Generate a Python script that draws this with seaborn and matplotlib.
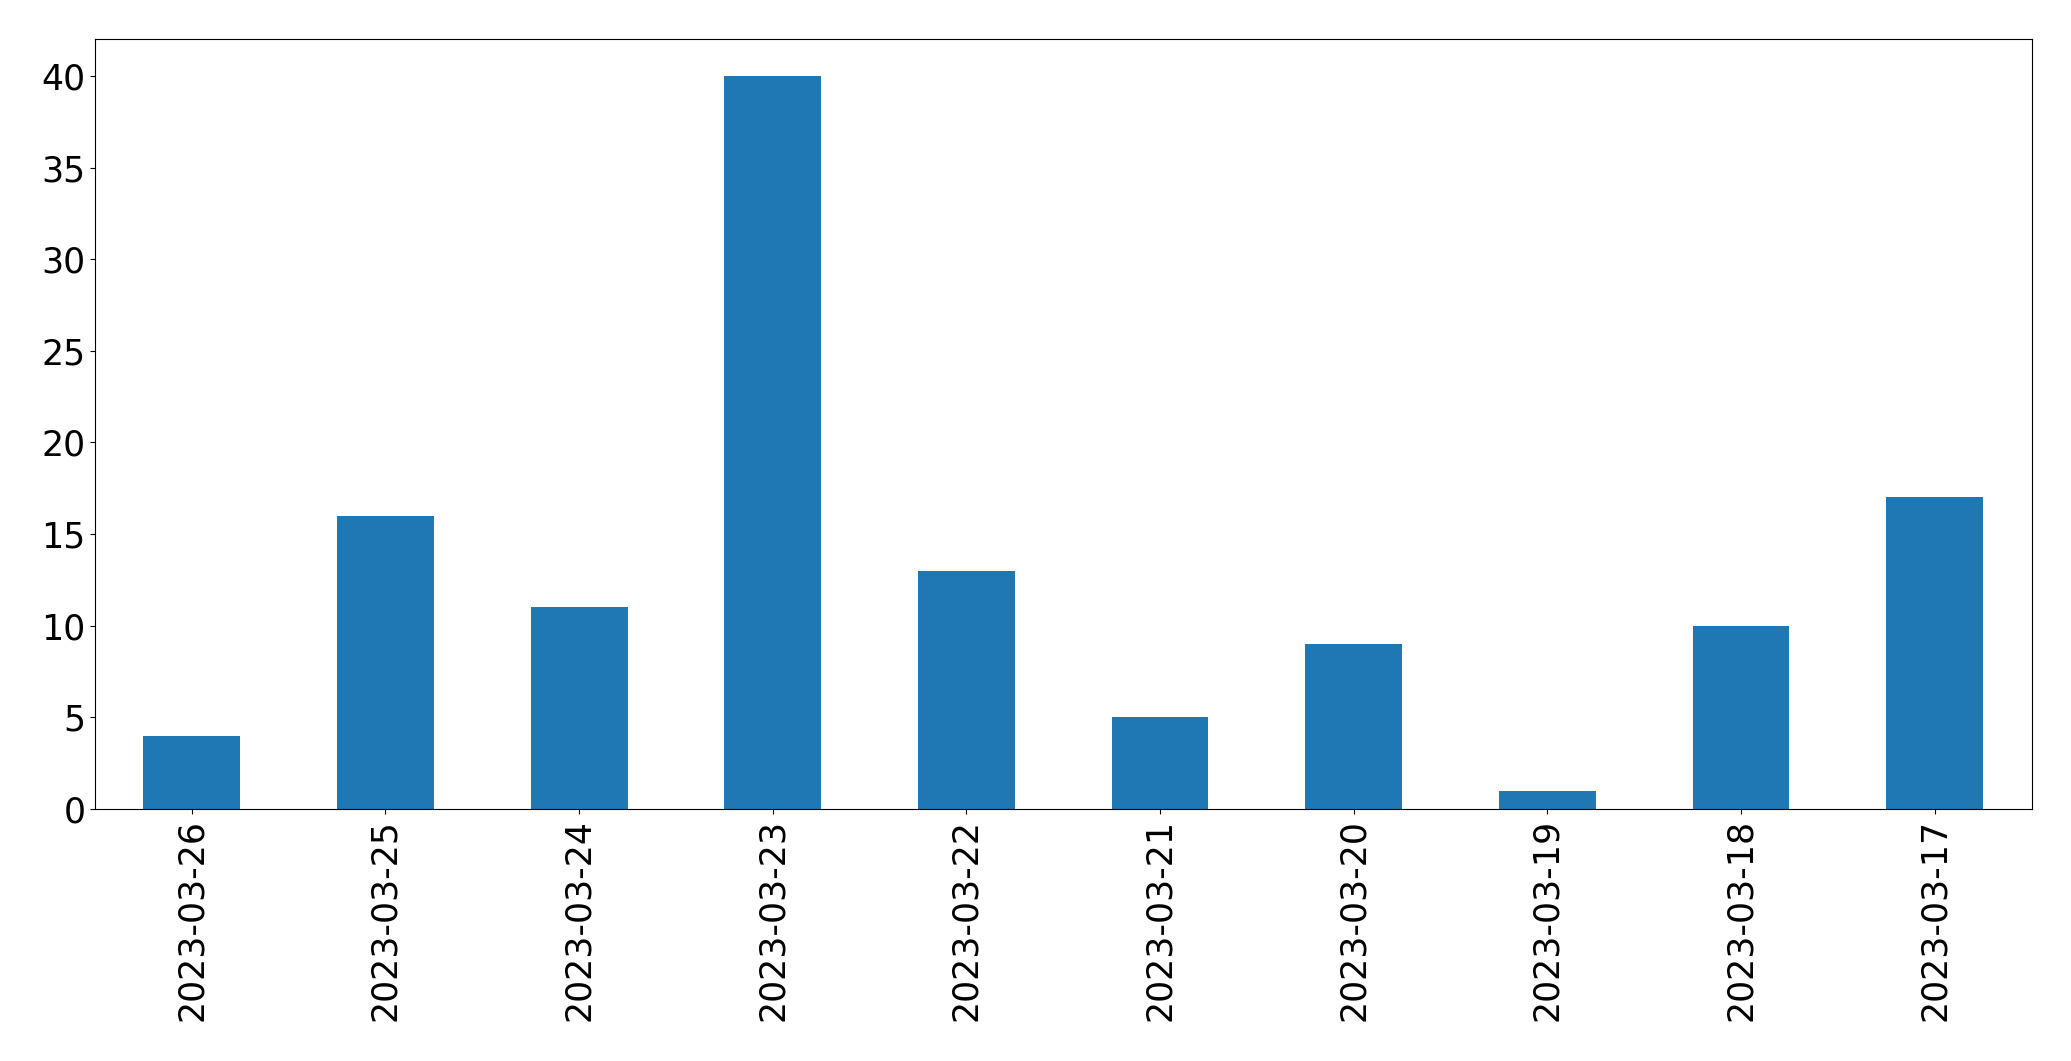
import matplotlib
matplotlib.use("Agg")
import matplotlib.pyplot as plt
import seaborn as sns
import pandas as pd

dates = ["2023-03-26", "2023-03-25", "2023-03-24", "2023-03-23", "2023-03-22",
         "2023-03-21", "2023-03-20", "2023-03-19", "2023-03-18", "2023-03-17"]
counts = [4, 16, 11, 40, 13, 5, 9, 1, 10, 17]

df = pd.DataFrame({"date": dates, "count": counts})

fig = plt.figure(figsize=(20.71, 10.61), dpi=100)
ax = fig.add_axes([95 / 2071, 1 - 809 / 1061, (2031.5 - 95) / 2071, (809 - 39.3) / 1061])

sns.barplot(data=df, x="date", y="count", order=dates, color="#1f77b4",
            saturation=1, width=0.5, ax=ax, linewidth=0)

ax.set_xlim(-0.5, len(dates) - 0.5)
ax.set_ylim(0, 42)
ax.set_yticks([0, 5, 10, 15, 20, 25, 30, 35, 40])
ax.set_xlabel("")
ax.set_ylabel("")
ax.tick_params(axis="both", labelsize=25)
ax.tick_params(axis="x", labelrotation=90)
for s in ax.spines.values():
    s.set_visible(True)
    s.set_color("black")

fig.savefig("out.png", dpi=100)
